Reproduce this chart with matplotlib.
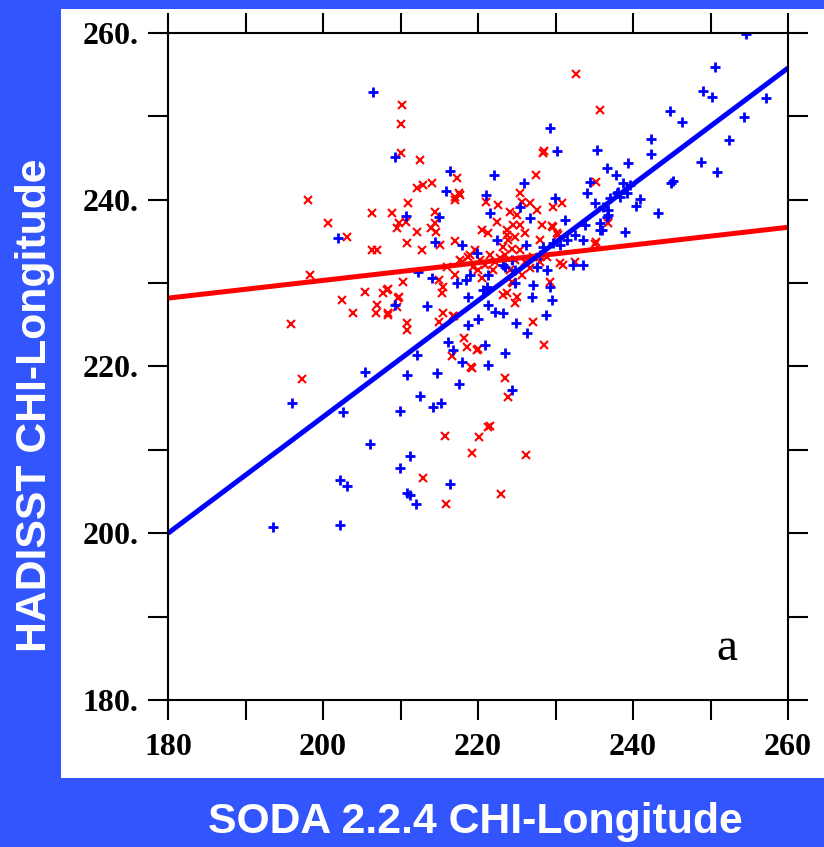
import numpy as np
import matplotlib
matplotlib.use("Agg")
import matplotlib.pyplot as plt
from matplotlib.patches import Rectangle
from matplotlib.ticker import MultipleLocator, FixedFormatter, FixedLocator

# SODA (x) vs HADISST (y) CHI-longitude
blue_x = [254.6, 206.5, 250.6, 249.0, 250.2, 257.2, 254.3, 244.8, 246.3, 252.4,
          242.3, 242.3, 229.3, 230.2, 235.4, 239.4, 236.6, 237.8, 248.8, 250.8,
          245.2, 244.9, 240.9, 240.4, 243.2, 239.0, 238.7, 239.6, 237.9, 237.0,
          236.1, 236.8, 238.3, 239.2, 236.6, 236.0, 225.9, 234.5, 234.1, 235.1,
          238.1, 229.9, 225.4, 226.7, 231.2, 233.5, 235.7, 236.8, 235.7, 226.2,
          228.4, 229.7, 231.5, 223.5, 224.4, 227.6, 228.9, 233.5, 232.3, 229.3,
          227.1, 227.0, 224.8, 209.3, 216.4, 222.1, 215.9, 221.0, 221.5, 210.7,
          215.0, 214.5, 217.9, 219.9, 222.5, 212.3, 214.1, 217.3, 218.5, 221.3,
          223.2, 218.7, 220.6, 201.9, 213.4, 209.3, 221.2, 216.1, 216.8, 218.7,
          220.0, 220.9, 221.3, 212.1, 222.2, 223.2, 223.5, 214.7, 217.9, 221.3,
          210.8, 217.5, 212.5, 214.2, 215.2, 209.9, 196.0, 193.5, 202.2, 202.2,
          203.1, 202.6, 206.1, 205.4, 211.2, 209.9, 210.8, 211.2, 212.0, 216.4,
          229.5, 228.8, 224.9, 226.3, 224.4, 224.8, 228.0, 230.6, 232.5, 233.8,
          219.0]
blue_y = [259.9, 252.9, 255.9, 253.0, 252.3, 252.2, 249.9, 250.6, 249.3, 247.2,
          247.3, 245.5, 248.6, 245.8, 246.0, 244.4, 243.8, 243.0, 244.5, 243.3,
          242.2, 242.0, 240.1, 239.3, 238.4, 236.1, 242.0, 241.8, 240.8, 240.2,
          239.1, 238.8, 240.3, 240.8, 237.9, 236.4, 242.0, 242.1, 240.8, 239.6,
          240.9, 240.2, 239.1, 237.8, 237.6, 235.2, 236.4, 238.2, 237.2, 234.6,
          234.3, 234.8, 235.2, 231.9, 232.8, 231.9, 231.6, 232.2, 232.2, 229.5,
          229.8, 228.3, 230.0, 245.1, 243.4, 243.0, 241.0, 240.6, 238.4, 238.1,
          237.9, 234.9, 234.6, 233.6, 235.2, 231.3, 230.6, 230.0, 230.4, 231.0,
          232.2, 228.3, 229.2, 235.4, 227.3, 227.4, 229.5, 222.9, 222.0, 225.0,
          225.7, 222.6, 227.4, 221.4, 226.5, 226.4, 221.6, 219.2, 220.5, 220.2,
          219.0, 217.9, 216.5, 215.1, 215.6, 214.7, 215.6, 200.7, 201.0, 206.4,
          205.7, 214.5, 210.7, 219.3, 209.3, 207.8, 204.8, 204.6, 203.5, 205.9,
          228.0, 226.2, 225.2, 224.0, 217.2, 231.6, 233.4, 234.6, 235.8, 237.0,
          231.0]

red_x = [210.2, 210.1, 210.1, 212.5, 217.3, 198.1, 206.3, 200.6, 203.1, 206.3,
         207.0, 198.3, 195.9, 202.5, 203.9, 205.4, 207.0, 206.8, 207.7, 208.4,
         208.4, 209.7, 209.5, 210.8, 210.8, 210.3, 208.9, 209.5, 209.8, 210.7,
         211.0, 212.1, 212.9, 214.1, 210.8, 212.8, 212.1, 213.9, 214.5, 214.6,
         214.5, 217.0, 217.5, 221.0, 220.5, 221.3, 217.0, 219.6, 217.9, 219.4,
         215.0, 215.5, 215.4, 216.9, 218.2, 219.9, 215.1, 217.7, 222.6, 222.5,
         217.7, 218.7, 220.3, 208.3, 216.0, 220.5, 223.7, 223.9, 228.4, 227.5,
         235.2, 225.4, 225.7, 224.1, 226.7, 227.6, 230.8, 229.7, 224.5, 223.7,
         228.3, 229.7, 224.8, 226.1, 236.8, 230.3, 235.2, 228.0, 223.2, 224.4,
         225.4, 227.1, 228.9, 232.5, 231.0, 225.7, 224.4, 229.3, 223.7, 225.0,
         232.6, 235.7, 228.5, 229.5, 230.2, 235.1, 230.6, 224.5, 227.1, 228.5,
         209.8, 208.4, 215.5, 215.0, 216.8, 218.6, 216.6, 219.1, 223.5, 223.9,
         221.5, 215.7, 220.1, 226.2, 223.0, 197.3, 212.9, 215.9, 219.2, 221.3,
         220.0, 219.2, 223.2, 224.8, 221.5, 222.2, 222.8, 220.9, 219.0, 226.1,
         226.7, 223.5, 224.8, 221.9, 220.0, 217.0, 228.0, 224.1, 217.0, 225.0,
         225.4]
red_y = [251.4, 249.1, 245.6, 244.8, 242.6, 240.0, 238.4, 237.2, 235.5, 234.0,
         234.0, 231.0, 225.1, 228.0, 226.4, 228.9, 227.4, 226.4, 228.8, 229.3,
         226.4, 228.2, 227.1, 225.2, 224.4, 230.1, 238.4, 236.6, 237.2, 237.3,
         239.6, 241.4, 241.8, 242.0, 234.8, 234.0, 236.1, 236.6, 237.2, 236.1,
         238.5, 240.3, 240.8, 239.7, 236.4, 236.0, 235.1, 234.0, 232.5, 231.9,
         230.4, 229.5, 228.8, 226.1, 223.4, 222.0, 234.6, 240.6, 239.4, 237.3,
         232.8, 233.1, 232.8, 229.2, 231.9, 230.6, 236.4, 235.2, 245.6, 243.0,
         242.1, 240.8, 239.7, 238.5, 239.6, 238.8, 239.6, 239.1, 237.0, 235.8,
         237.0, 236.7, 235.5, 236.0, 237.2, 235.8, 234.9, 235.2, 234.3, 234.1,
         234.0, 233.1, 233.1, 232.5, 232.2, 231.0, 230.1, 230.1, 228.8, 228.3,
         255.1, 250.8, 245.8, 236.9, 236.0, 234.7, 232.4, 230.0, 225.3, 222.6,
         228.3, 226.2, 226.4, 225.3, 226.1, 222.3, 221.3, 219.9, 218.6, 216.3,
         212.9, 211.7, 211.5, 209.4, 204.7, 218.5, 206.6, 203.5, 209.6, 212.7,
         222.1, 219.8, 228.6, 227.6, 233.4, 232.5, 233.0, 232.2, 233.4, 232.5,
         231.8, 233.4, 232.8, 231.6, 231.6, 231.0, 232.5, 231.6, 240.0, 238.2,
         237.0]

# regression lines (end points)
fit_x = [180, 260]
red_fit = [228.2, 236.7]
blue_fit = [200.0, 255.8]

y_ticks = [180, 200, 220, 240, 260]
y_labels = ["180.", "200.", "220.", "240.", "260."]
x_ticks = [180, 200, 220, 240, 260]
x_labels = ["180", "200", "220", "240", "260"]

W, H = 824, 847
fig = plt.figure(figsize=(W / 100, H / 100), dpi=100)
fig.patch.set_facecolor("#3355fe")
fig.patches.append(Rectangle((61 / W, 1 - 778 / H), (W - 61) / W, (778 - 9) / H,
                             transform=fig.transFigure, facecolor="white",
                             edgecolor="none", zorder=-10))

ax = fig.add_axes([168 / W, 1 - 700 / H, 620 / W, 667 / H])
ax.set_zorder(1)
ax.set_facecolor("white")

ax.plot(red_x, red_y, linestyle="none", marker="x", color="red",
        markersize=6.2, markeredgewidth=1.5)
ax.plot(blue_x, blue_y, linestyle="none", marker="+", color="blue",
        markersize=7.5, markeredgewidth=2)
ax.plot(fit_x, red_fit, color="red", linewidth=3.6, solid_capstyle="butt")
ax.plot(fit_x, blue_fit, color="blue", linewidth=3.6, solid_capstyle="butt")

ax.set_xlim(180, 260)
ax.set_ylim(180, 260)

ax.xaxis.set_major_locator(FixedLocator(x_ticks))
ax.xaxis.set_major_formatter(FixedFormatter(x_labels))
ax.yaxis.set_major_locator(FixedLocator(y_ticks))
ax.yaxis.set_major_formatter(FixedFormatter(y_labels))
ax.xaxis.set_minor_locator(MultipleLocator(10))
ax.yaxis.set_minor_locator(MultipleLocator(10))

for s in ax.spines.values():
    s.set_linewidth(1.5)
ax.tick_params(which="both", direction="out", length=14.5, width=1.5,
               top=True, right=True, labeltop=False, labelright=False)
ax.tick_params(axis="x", which="major", pad=9)
ax.tick_params(axis="y", which="major", pad=7)
for lab in ax.get_xticklabels() + ax.get_yticklabels():
    lab.set_fontfamily("Liberation Serif")
    lab.set_fontweight("bold")
    lab.set_fontsize(23)

ax.text(252.1, 186.2, "a", fontfamily="Liberation Serif", fontsize=34,
        ha="center", va="center")

fig.text(35 / W, 1 - 405 / H, "HADISST CHI-Longitude", rotation=90,
         color="white", fontweight="bold", fontfamily="Liberation Sans",
         fontsize=30.8, ha="center", va="center")
fig.text(475 / W, 1 - 822 / H, "SODA 2.2.4 CHI-Longitude",
         color="white", fontweight="bold", fontfamily="Liberation Sans",
         fontsize=30.8, ha="center", va="center")

fig.savefig("out.png", dpi=100, facecolor=fig.get_facecolor())
